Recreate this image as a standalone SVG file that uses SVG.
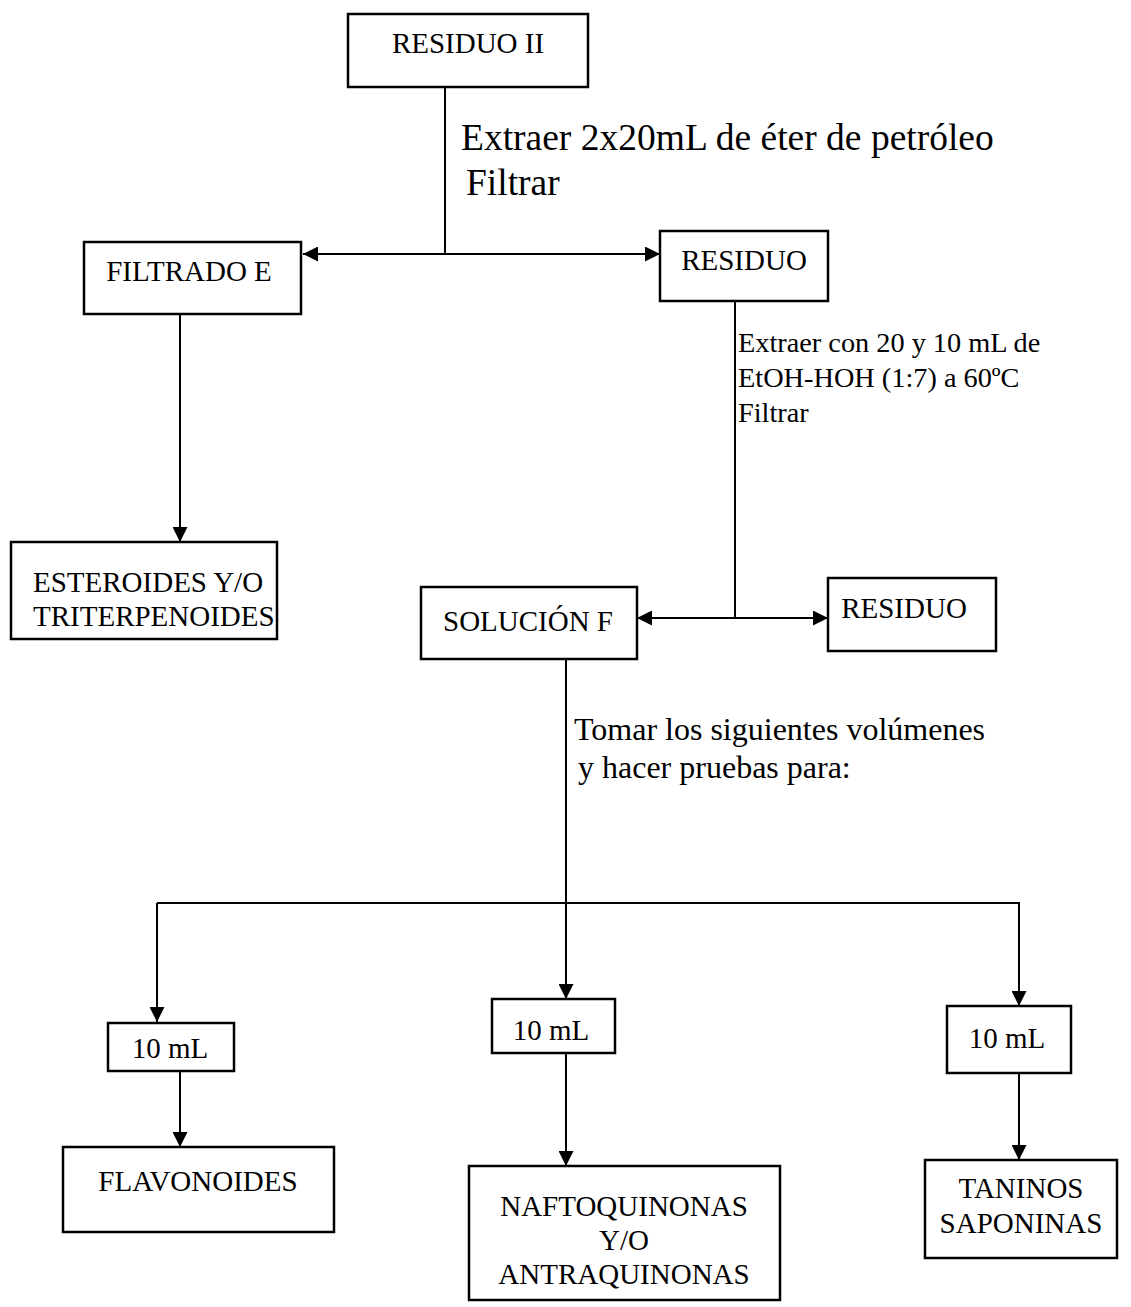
<svg xmlns="http://www.w3.org/2000/svg" width="1131" height="1307" viewBox="0 0 1131 1307">
  <style>
    .box { fill: #fff; stroke: #000; stroke-width: 2.5; }
    .lbl { font-family: "Liberation Serif", "Times New Roman", serif; font-size: 29px; fill: #000; }
    .note { font-family: "Liberation Serif", "Times New Roman", serif; font-size: 28.3px; fill: #000; }
    .note2 { font-family: "Liberation Serif", "Times New Roman", serif; font-size: 32px; fill: #000; }
    .big { font-family: "Liberation Serif", "Times New Roman", serif; font-size: 37.5px; fill: #000; }
    .mid { text-anchor: middle; }
    .wire { fill: none; stroke: #000; stroke-width: 2; }
  </style>
  <defs>
    <marker id="arrowL" viewBox="0 0 12 12" refX="12" refY="6" markerWidth="15" markerHeight="15" markerUnits="userSpaceOnUse" orient="auto">
      <path d="M0,0 L12,6 L0,12 z" fill="#000"/>
    </marker>
  </defs>

  <!-- connectors -->
  <g id="connectors">
    <line class="wire" x1="445" y1="87" x2="445" y2="254"/>
    <line class="wire" x1="445" y1="254" x2="303" y2="254" stroke-width="3" marker-end="url(#arrowL)"/>
    <line class="wire" x1="445" y1="254" x2="660" y2="254" stroke-width="3" marker-end="url(#arrowL)"/>
    <line class="wire" x1="180" y1="314" x2="180" y2="542" marker-end="url(#arrowL)"/>
    <line class="wire" x1="735" y1="301" x2="735" y2="618"/>
    <line class="wire" x1="735" y1="618" x2="637" y2="618" stroke-width="3" marker-end="url(#arrowL)"/>
    <line class="wire" x1="735" y1="618" x2="828" y2="618" stroke-width="3" marker-end="url(#arrowL)"/>
    <line class="wire" x1="566" y1="659" x2="566" y2="999" marker-end="url(#arrowL)"/>
    <polyline class="wire" points="157,903 1019,903 1019,1006" marker-end="url(#arrowL)"/>
    <line class="wire" x1="157" y1="903" x2="157" y2="1022" marker-end="url(#arrowL)"/>
    <line class="wire" x1="180" y1="1071" x2="180" y2="1147" marker-end="url(#arrowL)"/>
    <line class="wire" x1="566" y1="1053" x2="566" y2="1166" marker-end="url(#arrowL)"/>
    <line class="wire" x1="1019" y1="1073" x2="1019" y2="1160" marker-end="url(#arrowL)"/>
  </g>

  <!-- step notes -->
  <g id="notes">
    <text class="big" x="461" y="150">Extraer 2x20mL de éter de petróleo</text>
    <text class="big" x="466" y="195">Filtrar</text>
    <text class="note" x="738" y="352">Extraer con 20 y 10 mL de</text>
    <text class="note" x="738" y="387">EtOH-HOH (1:7) a 60ºC</text>
    <text class="note" x="738" y="422">Filtrar</text>
    <text class="note2" x="574" y="740">Tomar los siguientes volúmenes</text>
    <text class="note2" x="578" y="778">y hacer pruebas para:</text>
  </g>

  <g id="residuo-ii">
    <rect class="box" x="348" y="14" width="240" height="73"/>
    <text class="lbl mid" x="468" y="53">RESIDUO II</text>
  </g>
  <g id="filtrado-e">
    <rect class="box" x="84" y="242" width="217" height="72"/>
    <text class="lbl mid" x="189" y="281">FILTRADO E</text>
  </g>
  <g id="residuo-1">
    <rect class="box" x="660" y="231" width="168" height="70"/>
    <text class="lbl mid" x="744" y="270">RESIDUO</text>
  </g>
  <g id="esteroides">
    <rect class="box" x="11" y="542" width="266" height="97"/>
    <text class="lbl" x="33" y="592">ESTEROIDES Y/O</text>
    <text class="lbl" x="33" y="626">TRITERPENOIDES</text>
  </g>
  <g id="solucion-f">
    <rect class="box" x="421" y="587" width="216" height="72"/>
    <text class="lbl mid" x="528" y="631">SOLUCIÓN F</text>
  </g>
  <g id="residuo-2">
    <rect class="box" x="828" y="578" width="168" height="73"/>
    <text class="lbl mid" x="904" y="618">RESIDUO</text>
  </g>
  <g id="vol-1">
    <rect class="box" x="108" y="1023" width="126" height="48"/>
    <text class="lbl mid" x="170" y="1058">10 mL</text>
  </g>
  <g id="vol-2">
    <rect class="box" x="492" y="999" width="123" height="54"/>
    <text class="lbl mid" x="551" y="1040">10 mL</text>
  </g>
  <g id="vol-3">
    <rect class="box" x="947" y="1006" width="124" height="67"/>
    <text class="lbl mid" x="1007" y="1048">10 mL</text>
  </g>
  <g id="flavonoides">
    <rect class="box" x="63" y="1147" width="271" height="85"/>
    <text class="lbl mid" x="198" y="1191">FLAVONOIDES</text>
  </g>
  <g id="quinonas">
    <rect class="box" x="469" y="1166" width="311" height="134"/>
    <text class="lbl mid" x="624" y="1216">NAFTOQUINONAS</text>
    <text class="lbl mid" x="624" y="1250">Y/O</text>
    <text class="lbl mid" x="624" y="1284">ANTRAQUINONAS</text>
  </g>
  <g id="taninos">
    <rect class="box" x="925" y="1160" width="192" height="98"/>
    <text class="lbl mid" x="1021" y="1198">TANINOS</text>
    <text class="lbl mid" x="1021" y="1233">SAPONINAS</text>
  </g>
</svg>
